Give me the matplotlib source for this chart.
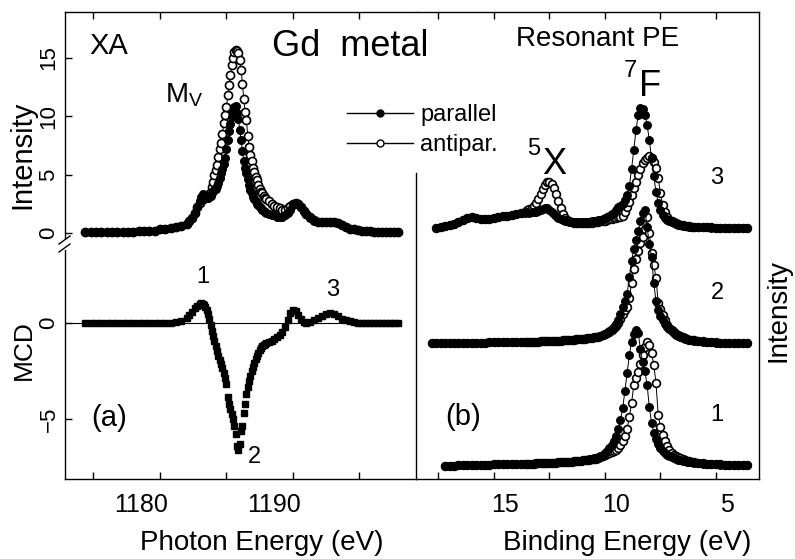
import numpy as np
import matplotlib
matplotlib.use('agg')
import matplotlib.pyplot as plt
import matplotlib.transforms as mtrans
from matplotlib.lines import Line2D

plt.rcParams['font.family'] = ['Liberation Sans', 'DejaVu Sans']
plt.rcParams['mathtext.fontset'] = 'custom'
plt.rcParams['mathtext.rm'] = 'Liberation Sans'

# ---------------- panel (a): XA + MCD, photon energy (eV) ----------------
e_xa = [1174.4, 1174.8, 1175.2, 1175.6, 1176.0, 1176.4, 1176.8, 1177.2, 1177.6, 1178.0,
        1178.4, 1178.8, 1179.2, 1179.6, 1180.0, 1180.4, 1180.8, 1181.2, 1181.6, 1182.0,
        1182.2, 1182.4, 1182.6, 1182.8,
        1183.0, 1183.1, 1183.2, 1183.3, 1183.4, 1183.5, 1183.6, 1183.7, 1183.8, 1183.9,
        1184.0, 1184.1, 1184.2, 1184.3, 1184.4, 1184.5, 1184.6, 1184.7, 1184.8, 1184.9,
        1185.0, 1185.1, 1185.2, 1185.3, 1185.4, 1185.5, 1185.6, 1185.7, 1185.8, 1185.9,
        1186.0, 1186.1, 1186.2, 1186.3, 1186.4, 1186.5, 1186.6, 1186.7, 1186.8, 1186.9,
        1187.0, 1187.1, 1187.2, 1187.3, 1187.4, 1187.5, 1187.6, 1187.7, 1187.8, 1187.9,
        1188.0,
        1188.2, 1188.4, 1188.6, 1188.8, 1189.0, 1189.2, 1189.4, 1189.6, 1189.8, 1190.0,
        1190.2, 1190.4, 1190.6, 1190.8, 1191.0,
        1191.3, 1191.6, 1191.9, 1192.2, 1192.5, 1192.8, 1193.1, 1193.4, 1193.7, 1194.0,
        1194.3, 1194.6, 1194.9, 1195.2, 1195.5, 1195.8, 1196.1, 1196.4, 1196.7, 1197.0,
        1197.3, 1197.6, 1197.9]

xa_par = [0.1, 0.1, 0.1, 0.1, 0.1, 0.1, 0.1, 0.1, 0.1, 0.1,
          0.2, 0.2, 0.2, 0.2, 0.3, 0.3, 0.4, 0.5, 0.6, 0.8,
          1.0, 1.3, 1.7, 2.2,
          2.7, 3.1, 3.3, 3.2, 3.1, 3.0, 3.0, 3.1, 3.2, 3.4,
          3.6, 3.7, 3.8, 4.0, 4.3, 4.7, 5.1, 5.5, 5.9, 6.4,
          7.2, 8.0, 8.7, 9.3, 9.9, 10.4, 10.8, 10.9, 10.3, 9.8,
          8.8, 8.0, 7.0, 6.2, 5.6, 5.1, 4.6, 4.1, 3.7, 3.4,
          3.1, 2.9, 2.7, 2.5, 2.4, 2.2, 2.1, 2.0, 1.9, 1.8,
          1.7,
          1.6, 1.5, 1.5, 1.4, 1.4, 1.4, 1.5, 1.7, 2.0, 2.4,
          2.6, 2.5, 2.2, 1.9, 1.6,
          1.3, 1.0, 0.9, 0.9, 0.9, 0.95, 0.95, 0.85, 0.65, 0.5,
          0.35, 0.3, 0.25, 0.2, 0.15, 0.15, 0.1, 0.1, 0.1, 0.05,
          0.05, 0.05, 0.05]

xa_anti = [0.1, 0.1, 0.1, 0.1, 0.1, 0.1, 0.1, 0.1, 0.1, 0.1,
           0.2, 0.2, 0.2, 0.2, 0.3, 0.3, 0.4, 0.5, 0.6, 0.8,
           1.0, 1.3, 1.7, 2.2,
           2.6, 2.8, 2.9, 3.0, 3.0, 3.1, 3.2, 3.3, 3.5, 3.9,
           4.4, 5.0, 5.4, 5.8, 6.5, 7.2, 7.7, 8.5, 9.4, 10.1,
           10.8, 11.8, 12.7, 13.5, 14.4, 15.0, 15.5, 15.7, 15.6, 15.4,
           14.8, 14.0, 12.8, 11.5, 10.4, 9.7, 8.3, 7.4, 6.7, 6.2,
           5.6, 5.2, 4.8, 4.5, 4.1, 3.8, 3.5, 3.4, 3.2, 3.0,
           2.9,
           2.7, 2.5, 2.3, 2.2, 2.1, 2.0, 2.0, 2.1, 2.3, 2.5,
           2.6, 2.5, 2.2, 1.9, 1.6,
           1.4, 1.1, 0.9, 0.9, 0.9, 0.95, 0.95, 0.85, 0.65, 0.5,
           0.35, 0.3, 0.25, 0.2, 0.15, 0.15, 0.1, 0.1, 0.1, 0.05,
           0.05, 0.05, 0.05]

mcd = [0.0, 0.0, 0.0, 0.0, 0.0, 0.0, 0.0, 0.0, 0.0, 0.0,
       0.0, 0.0, 0.0, 0.0, 0.0, 0.0, 0.02, 0.05, 0.1, 0.25,
       0.4, 0.6, 0.8, 0.9,
       1.0, 1.05, 1.0, 0.95, 0.85, 0.7, 0.45, 0.2, -0.1, -0.4,
       -0.7, -0.95, -1.2, -1.45, -1.7, -1.95, -2.15, -2.35, -2.6, -2.85,
       -3.2, -3.85, -4.2, -4.5, -4.75, -5.0, -5.35, -5.8, -6.4, -6.6,
       -6.3, -5.6, -5.35, -4.7, -4.2, -3.7, -3.35, -3.0, -2.75, -2.5,
       -2.3, -2.1, -1.9, -1.7, -1.55, -1.4, -1.3, -1.2, -1.15, -1.1,
       -1.05,
       -1.0, -0.95, -0.85, -0.75, -0.6, -0.45, -0.2, 0.15, 0.5, 0.7,
       0.65, 0.4, 0.2, 0.05, 0.0,
       0.05, 0.15, 0.25, 0.35, 0.45, 0.5, 0.45, 0.35, 0.2, 0.15,
       0.1, 0.05, 0.02, 0.0, 0.0, 0.0, 0.0, 0.0, 0.0, 0.0,
       0.0, 0.0, 0.0]

# ---------------- panel (b): resonant PE, binding energy (eV) ----------------
be = [17.8, 17.6, 17.4, 17.2, 17.0, 16.8, 16.6, 16.4, 16.2, 16.0,
      15.8, 15.6, 15.4, 15.2, 15.0, 14.8, 14.6, 14.4, 14.2, 14.0, 13.8,
      13.6, 13.5, 13.4, 13.3, 13.2, 13.1, 13.0,
      12.9, 12.8, 12.7, 12.6, 12.5, 12.4, 12.3, 12.2, 12.1, 12.0,
      11.9, 11.8, 11.7, 11.6, 11.5, 11.4, 11.3, 11.2, 11.1, 11.0,
      10.9, 10.8, 10.7, 10.6, 10.5, 10.4, 10.3, 10.2, 10.1, 10.0,
      9.9, 9.8, 9.7, 9.6, 9.5, 9.4, 9.3, 9.2, 9.1, 9.0,
      8.9, 8.8, 8.7, 8.6, 8.5, 8.4, 8.3, 8.2, 8.1, 8.0,
      7.9, 7.8, 7.7, 7.6, 7.5, 7.4, 7.3, 7.2, 7.1, 7.0,
      6.9, 6.8, 6.7, 6.6, 6.5, 6.4, 6.3, 6.2, 6.1, 6.0,
      5.8, 5.6, 5.4, 5.2, 5.0, 4.8, 4.6, 4.4, 4.2, 4.0, 3.8, 3.6]

# spectrum 1 (bottom)
pe1_par = [0.0, 0.0, 0.0, -0.1, -0.1, -0.1, 0.0, 0.0, 0.0, 0.0,
           0.0, 0.0, 0.0, 0.0, 0.1, 0.1, 0.1, 0.1, 0.1, 0.1, 0.1,
           0.1, 0.1, 0.1, 0.1, 0.1, 0.2, 0.2,
           0.2, 0.2, 0.2, 0.2, 0.2, 0.2, 0.2, 0.2, 0.3, 0.3,
           0.3, 0.3, 0.3, 0.3, 0.3, 0.4, 0.4, 0.4, 0.4, 0.5,
           0.5, 0.5, 0.6, 0.6, 0.7, 0.7, 0.8, 0.9, 1.0, 1.2,
           1.4, 1.7, 2.0, 2.4, 2.9, 3.6, 4.5, 5.7, 7.4, 9.2,
           11.0, 12.3, 13.1, 13.5, 13.2, 11.6, 10.3, 9.4, 8.0, 5.8,
           4.2, 3.2, 2.6, 2.1, 1.7, 1.4, 1.2, 1.0, 0.9, 0.8,
           0.7, 0.6, 0.5, 0.5, 0.4, 0.4, 0.3, 0.3, 0.3, 0.2,
           0.2, 0.1, 0.1, 0.1, 0.1, 0.0, 0.0, 0.0, 0.0, 0.0, 0.0, 0.0]
pe1_anti = [0.0, 0.0, 0.0, -0.1, -0.1, -0.1, 0.0, 0.0, 0.0, 0.0,
            0.0, 0.0, 0.0, 0.0, 0.1, 0.1, 0.1, 0.1, 0.1, 0.1, 0.1,
            0.1, 0.1, 0.1, 0.1, 0.1, 0.2, 0.2,
            0.2, 0.2, 0.2, 0.2, 0.2, 0.2, 0.2, 0.2, 0.3, 0.3,
            0.3, 0.3, 0.3, 0.3, 0.3, 0.4, 0.4, 0.4, 0.4, 0.5,
            0.5, 0.5, 0.5, 0.6, 0.6, 0.6, 0.7, 0.8, 0.9, 1.0,
            1.1, 1.2, 1.3, 1.4, 1.5, 1.7, 2.0, 2.4, 2.9, 3.6,
            4.8, 6.2, 8.0, 8.7, 9.3, 10.1, 11.0, 11.8, 12.3, 12.0,
            11.2, 10.0, 8.2, 5.0, 3.8, 3.0, 2.4, 1.9, 1.5, 1.2,
            1.0, 0.9, 0.8, 0.7, 0.6, 0.5, 0.4, 0.4, 0.3, 0.3,
            0.2, 0.2, 0.1, 0.1, 0.1, 0.1, 0.0, 0.0, 0.0, 0.0, 0.0, 0.0]

# spectrum 2 (middle)
pe2_par = [0.0, 0.0, 0.0, 0.0, 0.0, 0.0, 0.0, 0.0, 0.0, 0.0,
           0.0, 0.0, 0.0, 0.1, 0.1, 0.1, 0.1, 0.1, 0.1, 0.1, 0.1,
           0.1, 0.1, 0.1, 0.1, 0.1, 0.1, 0.1,
           0.2, 0.2, 0.2, 0.2, 0.2, 0.2, 0.2, 0.2, 0.2, 0.2,
           0.3, 0.3, 0.3, 0.3, 0.3, 0.3, 0.4, 0.4, 0.4, 0.4,
           0.4, 0.5, 0.5, 0.5, 0.6, 0.6, 0.6, 0.7, 0.8, 0.9,
           1.0, 1.2, 1.4, 1.6, 1.9, 2.3, 2.9, 3.6, 4.2, 4.9,
           6.6, 8.2, 9.4, 10.3, 11.2, 12.2, 13.0, 13.3, 11.6, 9.9,
           8.6, 6.0, 4.2, 3.3, 2.7, 2.3, 1.9, 1.6, 1.4, 1.2,
           1.0, 0.8, 0.7, 0.6, 0.5, 0.4, 0.4, 0.3, 0.3, 0.2,
           0.2, 0.1, 0.1, 0.1, 0.0, 0.0, 0.0, 0.0, 0.0, 0.0, 0.0, 0.0]
pe2_anti = [0.0, 0.0, 0.0, 0.0, 0.0, 0.0, 0.0, 0.0, 0.0, 0.0,
            0.0, 0.0, 0.0, 0.1, 0.1, 0.1, 0.1, 0.1, 0.1, 0.1, 0.1,
            0.1, 0.1, 0.1, 0.1, 0.1, 0.1, 0.1,
            0.2, 0.2, 0.2, 0.2, 0.2, 0.2, 0.2, 0.2, 0.2, 0.2,
            0.3, 0.3, 0.3, 0.3, 0.3, 0.3, 0.4, 0.4, 0.4, 0.4,
            0.4, 0.5, 0.5, 0.5, 0.6, 0.6, 0.6, 0.7, 0.8, 0.9,
            1.0, 1.1, 1.3, 1.5, 1.7, 2.0, 2.4, 2.9, 3.3, 3.6,
            4.5, 6.0, 7.4, 8.4, 9.2, 10.0, 10.6, 11.4, 12.6, 11.0,
            9.0, 7.8, 6.5, 4.0, 3.4, 2.8, 2.3, 1.8, 1.5, 1.3,
            1.1, 0.9, 0.8, 0.7, 0.6, 0.5, 0.4, 0.3, 0.3, 0.3,
            0.2, 0.2, 0.1, 0.1, 0.1, 0.0, 0.0, 0.0, 0.0, 0.0, 0.0, 0.0]

# spectrum 3 (top)
pe3_par = [0.0, 0.0, 0.1, 0.2, 0.3, 0.4, 0.6, 0.8, 1.0, 1.1,
           1.0, 0.9, 0.9, 0.9, 1.0, 1.1, 1.2, 1.2, 1.3, 1.4, 1.5,
           1.5, 1.6, 1.5, 1.6, 1.6, 1.6, 1.7,
           1.8, 1.9, 2.0, 2.0, 1.8, 1.6, 1.4, 1.2, 1.0, 0.9,
           0.8, 0.7, 0.7, 0.6, 0.6, 0.6, 0.6, 0.6, 0.6, 0.6,
           0.6, 0.6, 0.6, 0.7, 0.7, 0.7, 0.8, 0.8, 0.9, 1.0,
           1.1, 1.2, 1.4, 1.5, 1.8, 2.1, 2.2, 2.4, 2.8, 3.3,
           4.2, 5.9, 7.8, 9.8, 11.3, 12.0, 11.9, 11.3, 10.3, 8.8,
           7.0, 5.2, 3.6, 2.5, 1.8, 1.3, 1.0, 0.8, 0.7, 0.6,
           0.5, 0.4, 0.3, 0.3, 0.2, 0.2, 0.2, 0.1, 0.1, 0.1,
           0.1, 0.1, 0.1, 0.0, 0.0, 0.0, 0.0, 0.0, 0.0, 0.0, 0.0, 0.0]
pe3_anti = [0.0, 0.0, 0.1, 0.2, 0.3, 0.4, 0.6, 0.8, 1.0, 1.1,
            1.0, 0.9, 0.9, 0.9, 1.0, 1.1, 1.2, 1.2, 1.3, 1.4, 1.5,
            1.6, 1.8, 1.9, 2.0, 2.2, 2.5, 2.9,
            3.4, 3.9, 4.3, 4.6, 4.6, 4.4, 4.0, 3.4, 2.7, 2.0,
            1.4, 1.0, 0.8, 0.7, 0.6, 0.5, 0.5, 0.5, 0.5, 0.5,
            0.5, 0.5, 0.5, 0.5, 0.6, 0.6, 0.6, 0.7, 0.7, 0.7,
            0.8, 0.9, 0.9, 1.0, 1.0, 1.1, 1.1, 1.2, 1.6, 2.1,
            2.6, 3.3, 4.0, 4.6, 5.3, 5.9, 6.5, 6.8, 7.0, 7.2,
            7.0, 6.6, 6.0, 5.0, 3.5, 2.3, 1.6, 1.1, 0.8, 0.7,
            0.6, 0.5, 0.4, 0.3, 0.3, 0.2, 0.2, 0.2, 0.1, 0.1,
            0.1, 0.1, 0.1, 0.1, 0.0, 0.0, 0.0, 0.0, 0.0, 0.0, 0.0, 0.0]

pe_start = [3, 0, 1]          # first measured point of each spectrum
pe_offset = [1.4, 13.6, 25.1]  # vertical offsets of the stacked spectra
pe_labels = ['1', '2', '3']

W, H = 795, 559
fig = plt.figure(figsize=(W / 100, H / 100), dpi=100)
ax_t = fig.add_axes([65 / W, 1 - 243 / H, 351 / W, 231 / H])
ax_b = fig.add_axes([65 / W, 1 - 479 / H, 351 / W, 232 / H])
ax_r = fig.add_axes([416 / W, 1 - 479 / H, 343 / W, 467 / H])

xlim_a = (1172.86, 1199.25)
xt_a = [1175, 1180, 1185, 1190, 1195]

# XA spectra (filled drawn over open, as in the scan)
ax_t.plot(e_xa, xa_anti, '-', color='k', lw=0.7, marker='o', ms=5.8,
          mfc='white', mec='k', mew=1.2, zorder=2)
ax_t.plot(e_xa, xa_par, '-', color='k', lw=0.7, marker='o', ms=5.5,
          mfc='k', mec='k', zorder=3)
ax_t.set_xlim(*xlim_a)
ax_t.set_ylim(-0.86, 18.94)
ax_t.set_xticks(xt_a)
ax_t.set_yticks([0, 5, 10, 15])
ax_t.tick_params(axis='x', which='both', top=True, bottom=False,
                 labeltop=False, labelbottom=False, direction='in', length=5, width=1)
ax_t.tick_params(axis='y', direction='in', length=5, width=1, labelsize=16, pad=4)
for lab in ax_t.get_yticklabels():
    lab.set_rotation(90)
    lab.set_va('center')
ax_t.spines['bottom'].set_visible(False)
ax_t.spines['right'].set_visible(False)
ax_t.spines['left'].set_bounds(-0.43, 18.94)

# MCD
ax_b.axhline(0, xmin=0, xmax=0.955, color='k', lw=0.8)
ax_b.plot(e_xa, mcd, 's', color='k', ms=5.0, zorder=3)
ax_b.set_xlim(*xlim_a)
ax_b.set_ylim(-8.125, 3.96)
ax_b.set_xticks(xt_a)
ax_b.set_xticklabels(['', '1180', '', '1190', ''])
ax_b.set_yticks([-5, 0])
ax_b.tick_params(axis='x', direction='in', length=5, width=1, labelsize=18, pad=10)
ax_b.tick_params(axis='y', direction='in', length=5, width=1, labelsize=16, pad=4)
for lab in ax_b.get_yticklabels():
    lab.set_rotation(90)
    lab.set_va('center')
ax_b.spines['top'].set_visible(False)
ax_b.spines['right'].set_visible(False)
ax_b.spines['left'].set_bounds(-8.125, 3.8)
shift_a = mtrans.ScaledTranslation(-19 / 100, 0, fig.dpi_scale_trans)
for lab in ax_b.get_xticklabels():
    lab.set_transform(lab.get_transform() + shift_a)

# resonant PE spectra, stacked
pairs = [(pe1_par, pe1_anti), (pe2_par, pe2_anti), (pe3_par, pe3_anti)]
for i, (par, anti) in enumerate(pairs):
    s = pe_start[i]
    x = be[s:]
    ax_r.plot(x, np.array(anti[s:]) + pe_offset[i], '-', color='k', lw=0.7,
              marker='o', ms=5.6, mfc='white', mec='k', mew=1.2, zorder=2 + 2 * i)
    ax_r.plot(x, np.array(par[s:]) + pe_offset[i], '-', color='k', lw=0.7,
              marker='o', ms=5.4, mfc='k', mec='k', zorder=3 + 2 * i)
    ax_r.text(4.95, pe_offset[i] + 5.0, pe_labels[i], fontsize=17,
              ha='center', va='center')
ax_r.set_xlim(18.51, 3.06)
ax_r.set_ylim(0, 46.7)
ax_r.set_xticks([17.5, 15, 12.5, 10, 7.5, 5])
ax_r.set_xticklabels(['', '15', '', '10', '', '5'])
ax_r.set_yticks([])
ax_r.tick_params(axis='x', which='both', top=True, bottom=True, direction='in',
                 length=5, width=1, labelsize=18, pad=10)
ax_r.spines['left'].set_bounds(0, 30.6)
shift_b = mtrans.ScaledTranslation(11 / 100, 0, fig.dpi_scale_trans)
for lab in ax_r.get_xticklabels():
    lab.set_transform(lab.get_transform() + shift_b)

for ax in (ax_t, ax_b, ax_r):
    for sp in ax.spines.values():
        sp.set_linewidth(1.0)

# axis break marks on the left spine
for y0 in (244, 252):
    fig.add_artist(Line2D([59 / W, 70 / W], [1 - y0 / H, 1 - (y0 - 8) / H],
                          transform=fig.transFigure, color='k', lw=1.0))

# annotations
ax_t.text(1174.7, 16.0, 'XA', fontsize=21, ha='left', va='center')
ax_t.text(1180.4, 11.8, r'M$_\mathrm{V}$', fontsize=20, ha='left', va='center')
ax_b.text(1183.2, 2.4, '1', fontsize=17, ha='center', va='center')
ax_b.text(1187.1, -7.0, '2', fontsize=17, ha='center', va='center')
ax_b.text(1193.0, 1.72, '3', fontsize=17, ha='center', va='center')
ax_b.text(1176.2, -4.95, '(a)', fontsize=21, ha='center', va='center')
ax_r.text(16.4, 6.2, '(b)', fontsize=21, ha='center', va='center')
ax_r.text(12.3, 31.4, 'X', fontsize=26, ha='center', va='center')
ax_r.text(13.2, 33.0, '5', fontsize=17, ha='center', va='center')
ax_r.text(7.97, 39.3, 'F', fontsize=26, ha='center', va='center')
ax_r.text(8.85, 40.8, '7', fontsize=17, ha='center', va='center')

fig.text(272 / W, 1 - 46 / H, 'Gd  metal', fontsize=26, ha='left', va='center')
fig.text(598 / W, 1 - 39 / H, 'Resonant PE', fontsize=20, ha='center', va='center')
fig.text(22 / W, 1 - 155 / H, 'Intensity', fontsize=21, rotation=90, ha='center', va='center')
fig.text(24 / W, 1 - 350 / H, 'MCD', fontsize=19, rotation=90, ha='center', va='center')
fig.text(779 / W, 1 - 310 / H, 'Intensity', fontsize=20, rotation=90, ha='center', va='center')
fig.text(262 / W, 1 - 543 / H, 'Photon Energy (eV)', fontsize=20, ha='center', va='center')
fig.text(627 / W, 1 - 543 / H, 'Binding Energy (eV)', fontsize=20, ha='center', va='center')

handles = [Line2D([], [], color='k', lw=1.0, marker='o', ms=5, mfc='k', mec='k'),
           Line2D([], [], color='k', lw=1.0, marker='o', ms=5, mfc='white', mec='k')]
fig.legend(handles, ['parallel', 'antipar.'], loc='upper left',
           bbox_to_anchor=(347 / W, 1 - 104 / H), frameon=False, fontsize=17,
           handlelength=2.8, handletextpad=0.3, labelspacing=0.35,
           borderpad=0, borderaxespad=0)

fig.savefig('out.png', dpi=100)
